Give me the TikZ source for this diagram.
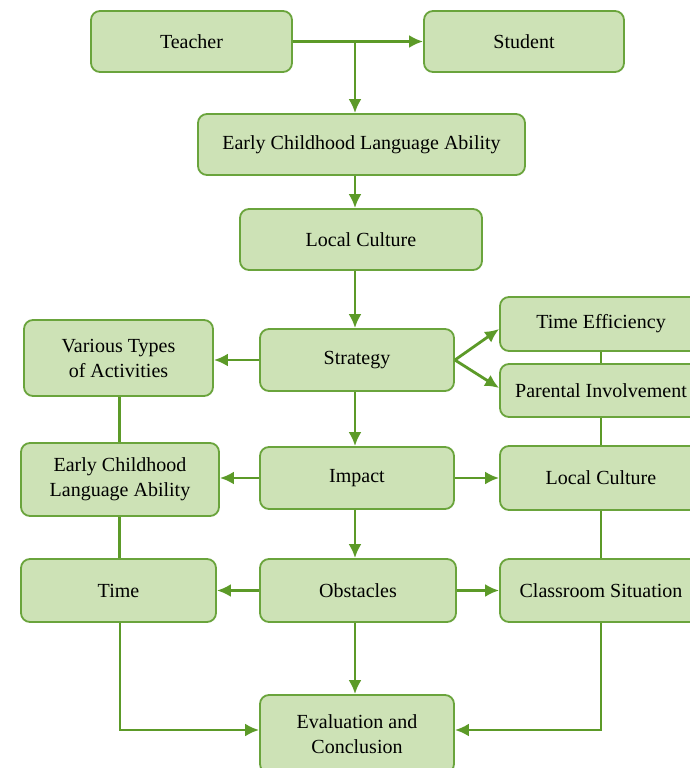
\documentclass[tikz,border=0pt]{standalone}
\usepackage{fontspec}
\setmainfont{Liberation Serif}
\usetikzlibrary{arrows.meta}
\definecolor{boxfill}{RGB}{205,226,182}
\definecolor{boxline}{RGB}{106,164,60}
\definecolor{arrowc}{RGB}{92,154,40}
\tikzset{
  box/.style={draw=boxline, fill=boxfill, line width=1.8pt, rounded corners=9pt,
    align=center, font=\fontsize{20}{25}\selectfont, inner sep=0pt},
  arr/.style={draw=arrowc, line width=2.8pt, -{Latex[length=14pt,width=13pt]}},
  ln/.style={draw=arrowc, line width=2.4pt}
}
\begin{document}
\begin{tikzpicture}[x=1pt,y=-1pt]
\clip (0,0) rectangle (690,768);
\fill[white] (0,0) rectangle (690,768);
% boxes
\node[box, minimum width=201pt, minimum height=61pt] (teacher) at (191.5,41.5) {Teacher};
\node[box, minimum width=200pt, minimum height=61pt] (student) at (524,41.5) {Student};
\node[box, minimum width=327pt, minimum height=61pt] (ecla) at (361.5,144.5) {Early Childhood Language Ability};
\node[box, minimum width=242pt, minimum height=61pt] (lc) at (361,239.5) {Local Culture};
\node[box, minimum width=194pt, minimum height=62pt] (strategy) at (357,360) {Strategy};
\node[box, minimum width=189pt, minimum height=76pt] (various) at (118.5,358) {Various Types\\of Activities};
\node[box, minimum width=202pt, minimum height=54pt] (te) at (601,324) {Time Efficiency};
\node[box, minimum width=202pt, minimum height=53pt] (pi) at (601,390.5) {Parental Involvement};
\node[box, minimum width=194pt, minimum height=62pt] (impact) at (357,478) {Impact};
\node[box, minimum width=198pt, minimum height=73pt] (eclaleft) at (120,479.5) {Early Childhood\\Language Ability};
\node[box, minimum width=202pt, minimum height=64pt] (lcr) at (601,478) {Local Culture};
\node[box, minimum width=196pt, minimum height=63pt] (obstacles) at (358,590.5) {Obstacles};
\node[box, minimum width=195pt, minimum height=63pt] (time) at (118.5,590.5) {Time};
\node[box, minimum width=202pt, minimum height=63pt] (classroom) at (601,590.5) {Classroom Situation};
\node[box, minimum width=194pt, minimum height=78pt] (eval) at (357,734) {Evaluation and\\Conclusion};
% connectors
\coordinate (j) at (355,41.5);
\coordinate (lx) at (119.5,0);
\draw[arr] (teacher.east) -- (student.west);
\draw[arr] (j) -- (j |- ecla.north);
\draw[arr] (ecla.south -| j) -- (lc.north -| j);
\draw[arr] (lc.south -| j) -- (strategy.north -| j);
\draw[arr] (strategy.west) -- (various.east |- strategy.west);
\draw[arr] (strategy.east) -- (te.west |- 0,329);
\draw[arr] (strategy.east) -- (pi.west |- 0,388);
\draw[arr] (strategy.south -| j) -- (impact.north -| j);
\draw[arr] (impact.west) -- (eclaleft.east |- impact.west);
\draw[arr] (impact.east) -- (lcr.west);
\draw[arr] (impact.south -| j) -- (obstacles.north -| j);
\draw[arr] (obstacles.west) -- (time.east);
\draw[arr] (obstacles.east) -- (classroom.west);
\draw[arr] (obstacles.south -| j) -- (eval.north -| j);
\coordinate (bl) at (120,730);
\coordinate (br) at (601,730);
\draw[arr] (time.south -| bl) -- (bl) -- (eval.west |- bl);
\draw[arr] (classroom.south -| br) -- (br) -- (eval.east |- br);
% plain links
\draw[ln] (various.south -| lx) -- (eclaleft.north -| lx);
\draw[ln] (eclaleft.south -| lx) -- (time.north -| lx);
\draw[ln] (te.south) -- (pi.north);
\draw[ln] (pi.south) -- (lcr.north);
\draw[ln] (lcr.south) -- (classroom.north);
\end{tikzpicture}
\end{document}
